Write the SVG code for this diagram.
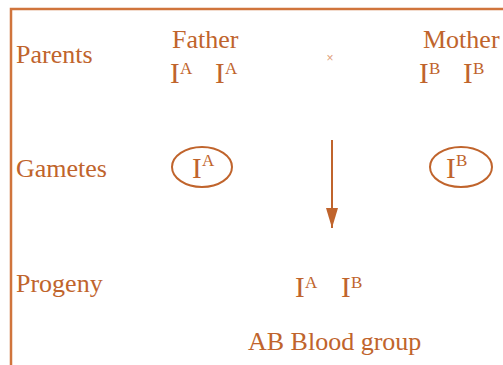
<svg xmlns="http://www.w3.org/2000/svg" width="503" height="365" viewBox="0 0 503 365">
<style>
.t{font-family:"Liberation Serif","Times New Roman",serif;font-size:26px;fill:#c0642c}
.g{font-family:"Liberation Serif","Times New Roman",serif;font-size:29px;fill:#c0642c}
.s{font-family:"Liberation Serif","Times New Roman",serif;font-size:17px;fill:#c0642c}
.b{stroke:#d0743c;stroke-width:2.5;fill:none}
.e{stroke:#c0642c;stroke-width:2;fill:none}
</style>
<defs>
<marker id="ah" markerWidth="20" markerHeight="12" refX="20" refY="6" orient="auto" markerUnits="userSpaceOnUse" viewBox="0 0 20 12">
<path d="M0,0 L20,6 L0,12 Z" fill="#c0642c"/>
</marker>
</defs>
<rect width="503" height="365" fill="#ffffff"/>
<path class="b" d="M503,9 L11,9 L11,365"/>
<g id="labels">
<text class="t" x="16" y="63">Parents</text>
<text class="t" x="16" y="177">Gametes</text>
<text class="t" x="16" y="292">Progeny</text>
</g>
<g id="father">
<text class="t" x="172" y="48">Father</text>
<text class="g" x="170" y="83">I</text><text class="s" x="180" y="74">A</text>
<text class="g" x="215" y="83">I</text><text class="s" x="225" y="74">A</text>
</g>
<g id="cross">
<text x="330" y="62" font-family="Liberation Sans, sans-serif" font-size="12" fill="#e0a07a" text-anchor="middle">×</text>
</g>
<g id="mother">
<text class="t" x="423" y="48">Mother</text>
<text class="g" x="419" y="83">I</text><text class="s" x="429" y="74">B</text>
<text class="g" x="463" y="83">I</text><text class="s" x="473" y="74">B</text>
</g>
<g id="gameteA">
<ellipse class="e" cx="202" cy="167" rx="30" ry="20"/>
<text class="g" x="192" y="178">I</text><text class="s" x="202" y="166">A</text>
</g>
<g id="gameteB">
<ellipse class="e" cx="461" cy="167" rx="31" ry="20"/>
<text class="g" x="446" y="178">I</text><text class="s" x="456" y="166">B</text>
</g>
<g id="connectors">
<line x1="332" y1="140" x2="332" y2="228" stroke="#c0642c" stroke-width="2" marker-end="url(#ah)"/>
</g>
<g id="progeny">
<text class="g" x="295" y="297">I</text><text class="s" x="305" y="288">A</text>
<text class="g" x="341" y="297">I</text><text class="s" x="351" y="288">B</text>
<text class="t" x="248" y="350">AB Blood group</text>
</g>
</svg>
